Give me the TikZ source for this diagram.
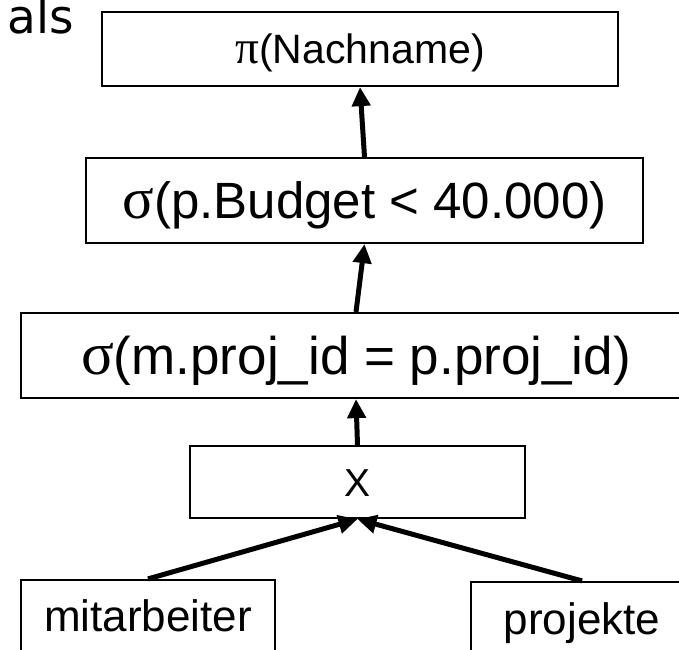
\documentclass[tikz,border=0pt]{standalone}
\usepackage{fontspec}
\setmainfont{Liberation Sans}
\newfontfamily\greekfont{Liberation Serif}[Scale=1.15]
\newfontfamily\alsfont{DejaVu Sans}
\usetikzlibrary{arrows.meta}

\begin{document}
\begin{tikzpicture}[x=0.5pt, y=-0.5pt,
  opbox/.style={draw, line width=1.1pt, inner sep=0pt},
  bigtext/.style={font=\fontsize{26.5}{30}\selectfont, text height=19pt, text depth=0pt},
  nametext/.style={font=\fontsize{20.5}{24}\selectfont, text height=14.7pt, text depth=0pt},
  reltext/.style={font=\fontsize{22}{25}\selectfont, text height=15.8pt, text depth=0pt},
  flow/.style={line width=2.5pt, -{Triangle[length=9.5pt, width=9pt]}}]
  \useasboundingbox (0,0) rectangle (679,649);
  \clip (0,0) rectangle (679,649);
  % operator tree
  \node[font=\alsfont\fontsize{23.5}{27}\selectfont, anchor=base west, inner sep=0pt] (als) at (7,33) {als};
  \node[opbox, nametext, minimum width=258pt, minimum height=37pt] (proj) at (360,49) {{\greekfont π}(Nachname)};
  \node[opbox, bigtext, font=\fontsize{25.5}{29}\selectfont, text height=18.3pt, minimum width=278.5pt, minimum height=42.5pt] (budget) at (364.5,200.5) {{\greekfont σ}(p.Budget < 40.000)};
  \node[opbox, bigtext, minimum width=335pt, minimum height=42.5pt] (join) at (356,355.5) {{\greekfont σ}(m.proj\_id = p.proj\_id)};
  \node[opbox, font=\fontsize{19.5}{23}\selectfont, text height=14pt, text depth=0pt, minimum width=167.5pt, minimum height=36pt] (cross) at (357.5,482) {X};
  % base relations
  \node[opbox, reltext, minimum width=127pt, minimum height=36pt] (mitarb) at (148,616) {mitarbeiter};
  \node[opbox, reltext, minimum width=111pt, minimum height=37pt] (projekte) at (582,619) {projekte};
  % arrows
  \draw[flow] (budget.north) -- (proj.south);
  \draw[flow] (join.north) -- (budget.south);
  \draw[flow] (cross.north) -- (join.south);
  \draw[flow] (mitarb.north) -- (cross.south);
  \draw[flow] (projekte.north) -- (cross.south);
\end{tikzpicture}
\end{document}
